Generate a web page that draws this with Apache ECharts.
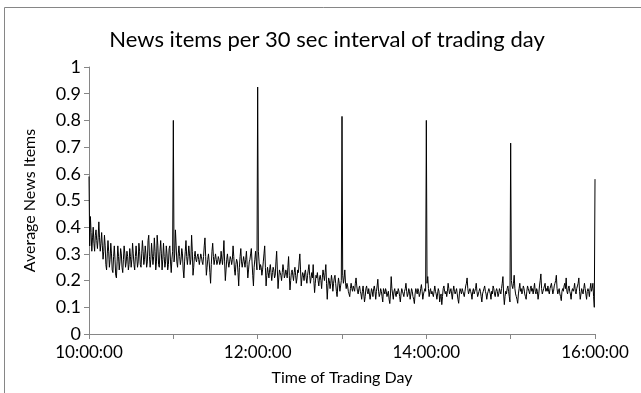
<!DOCTYPE html>
<html>
<head>
<meta charset="utf-8">
<script src="https://cdn.jsdelivr.net/npm/echarts@6/dist/echarts.min.js"></script>
<style>
  html, body { margin: 0; padding: 0; background: #fff; }
  #chart { width: 641px; height: 393px; }
</style>
</head>
<body>
<div id="chart"></div>
<script>
// Average news items per 30-second interval, one array per trading hour
// (each hour holds 120 readings, starting on the hour).
const hour10 = [
  0.59,0.33,0.44,0.38,0.31,0.36,0.40,0.34,0.31,0.37,
  0.39,0.35,0.32,0.36,0.42,0.36,0.31,0.34,0.38,0.33,
  0.28,0.31,0.37,0.33,0.26,0.24,0.30,0.35,0.31,0.25,
  0.28,0.34,0.30,0.24,0.23,0.29,0.33,0.28,0.22,0.21,
  0.27,0.33,0.29,0.24,0.27,0.32,0.30,0.25,0.23,0.28,
  0.33,0.30,0.25,0.27,0.31,0.29,0.24,0.26,0.32,0.29,
  0.25,0.28,0.34,0.30,0.26,0.24,0.29,0.33,0.29,0.25,
  0.27,0.34,0.31,0.26,0.25,0.30,0.35,0.31,0.26,0.28,
  0.33,0.30,0.25,0.27,0.35,0.37,0.29,0.25,0.28,0.34,
  0.30,0.26,0.29,0.36,0.31,0.24,0.27,0.37,0.33,0.26,
  0.25,0.31,0.35,0.30,0.24,0.28,0.34,0.29,0.25,0.27,
  0.33,0.30,0.24,0.26,0.32,0.33,0.27,0.23,0.28,0.31
];
const hour11 = [
  0.80,0.27,0.30,0.39,0.33,0.27,0.25,0.30,0.33,0.29,
  0.26,0.28,0.32,0.30,0.24,0.21,0.27,0.31,0.35,0.29,
  0.26,0.29,0.33,0.30,0.26,0.28,0.37,0.31,0.22,0.25,
  0.29,0.31,0.28,0.27,0.29,0.30,0.28,0.26,0.28,0.30,
  0.29,0.27,0.26,0.29,0.33,0.36,0.29,0.22,0.25,0.28,
  0.30,0.27,0.23,0.19,0.26,0.31,0.34,0.29,0.26,0.28,
  0.30,0.28,0.26,0.27,0.29,0.28,0.26,0.27,0.31,0.28,
  0.26,0.30,0.35,0.27,0.20,0.24,0.28,0.30,0.27,0.25,
  0.27,0.29,0.28,0.26,0.28,0.33,0.29,0.24,0.22,0.26,
  0.28,0.27,0.23,0.18,0.25,0.29,0.32,0.27,0.25,0.27,
  0.29,0.27,0.25,0.28,0.31,0.26,0.21,0.24,0.27,0.28,
  0.30,0.32,0.27,0.22,0.18,0.25,0.28,0.31,0.27,0.24
];
const hour12 = [
  0.925,0.31,0.27,0.24,0.26,0.25,0.22,0.24,0.27,0.30,
  0.33,0.25,0.18,0.22,0.25,0.23,0.21,0.24,0.26,0.23,
  0.20,0.23,0.25,0.24,0.21,0.22,0.27,0.31,0.24,0.17,
  0.21,0.24,0.23,0.22,0.20,0.23,0.26,0.24,0.21,0.22,
  0.24,0.23,0.21,0.25,0.29,0.22,0.165,0.20,0.23,0.24,
  0.22,0.20,0.23,0.25,0.22,0.19,0.21,0.24,0.23,0.27,
  0.30,0.24,0.18,0.21,0.23,0.22,0.20,0.23,0.24,0.21,
  0.19,0.22,0.24,0.26,0.22,0.19,0.21,0.23,0.21,0.26,
  0.20,0.155,0.19,0.22,0.21,0.23,0.20,0.18,0.21,0.22,
  0.20,0.17,0.21,0.24,0.22,0.20,0.23,0.26,0.19,0.13,
  0.18,0.21,0.20,0.17,0.19,0.22,0.20,0.16,0.19,0.21,
  0.22,0.19,0.16,0.14,0.18,0.21,0.19,0.16,0.18,0.20
];
const hour13 = [
  0.815,0.22,0.19,0.21,0.24,0.19,0.17,0.19,0.18,0.16,
  0.15,0.14,0.17,0.19,0.17,0.16,0.18,0.17,0.16,0.19,
  0.21,0.18,0.16,0.15,0.17,0.18,0.16,0.15,0.13,0.16,
  0.18,0.15,0.12,0.14,0.17,0.18,0.16,0.15,0.17,0.15,
  0.13,0.15,0.17,0.16,0.14,0.17,0.18,0.16,0.13,0.16,
  0.18,0.205,0.16,0.14,0.15,0.17,0.16,0.14,0.12,0.17,
  0.16,0.15,0.17,0.16,0.14,0.15,0.16,0.13,0.114,0.15,
  0.215,0.17,0.15,0.13,0.16,0.17,0.15,0.14,0.16,0.15,
  0.17,0.16,0.14,0.12,0.15,0.17,0.16,0.15,0.14,0.16,
  0.17,0.19,0.16,0.14,0.15,0.17,0.16,0.13,0.15,0.17,
  0.16,0.14,0.13,0.114,0.15,0.17,0.16,0.15,0.17,0.16,
  0.14,0.15,0.17,0.185,0.16,0.13,0.15,0.16,0.17,0.16
];
const hour14 = [
  0.80,0.19,0.215,0.17,0.14,0.16,0.17,0.15,0.16,0.15,
  0.14,0.16,0.18,0.16,0.15,0.13,0.15,0.17,0.16,0.12,
  0.14,0.15,0.11,0.14,0.17,0.18,0.16,0.15,0.16,0.14,
  0.16,0.19,0.17,0.15,0.16,0.17,0.15,0.13,0.16,0.18,
  0.16,0.15,0.16,0.17,0.15,0.13,0.115,0.15,0.17,0.16,
  0.15,0.17,0.16,0.15,0.14,0.16,0.18,0.19,0.21,0.17,
  0.15,0.16,0.17,0.16,0.15,0.13,0.16,0.17,0.15,0.16,
  0.17,0.19,0.16,0.14,0.15,0.16,0.17,0.16,0.14,0.12,
  0.15,0.16,0.17,0.18,0.16,0.15,0.13,0.15,0.16,0.17,
  0.16,0.15,0.13,0.16,0.15,0.18,0.17,0.15,0.14,0.16,
  0.17,0.16,0.14,0.15,0.17,0.16,0.15,0.17,0.19,0.215,
  0.15,0.11,0.14,0.16,0.15,0.17,0.18,0.16,0.14,0.12
];
const hour15 = [
  0.715,0.20,0.18,0.17,0.19,0.22,0.17,0.15,0.14,0.13,
  0.115,0.15,0.17,0.19,0.16,0.17,0.15,0.16,0.18,0.17,
  0.15,0.14,0.13,0.16,0.18,0.17,0.16,0.15,0.17,0.18,
  0.16,0.17,0.15,0.17,0.19,0.16,0.15,0.17,0.16,0.13,
  0.15,0.18,0.20,0.225,0.17,0.15,0.16,0.17,0.18,0.19,
  0.16,0.17,0.16,0.18,0.16,0.15,0.17,0.18,0.19,0.17,
  0.15,0.16,0.18,0.19,0.20,0.22,0.17,0.15,0.16,0.17,
  0.15,0.14,0.125,0.16,0.17,0.16,0.18,0.19,0.17,0.21,
  0.16,0.15,0.17,0.18,0.16,0.15,0.13,0.16,0.17,0.16,
  0.17,0.19,0.16,0.15,0.17,0.18,0.19,0.21,0.16,0.13,
  0.15,0.17,0.16,0.15,0.17,0.19,0.17,0.15,0.13,0.16,
  0.17,0.16,0.14,0.17,0.19,0.16,0.17,0.19,0.14,0.10
];
// Reading at the closing bell, 16:00:00
const closeValue = [0.58];

const tickLabels = ['10:00:00', '12:00:00', '14:00:00', '16:00:00'];

const values = [].concat(hour10, hour11, hour12, hour13, hour14, hour15, closeValue);

// 30-second timestamps from 10:00:00 onwards
const pad = n => String(n).padStart(2, '0');
const times = values.map((_, i) => {
  const s = 10 * 3600 + i * 30;
  return pad(Math.floor(s / 3600)) + ':' + pad(Math.floor(s / 60) % 60) + ':' + pad(s % 60);
});

const FONT = 'Lato';
const AXIS_GREY = '#868686';

const chart = echarts.init(document.getElementById('chart'), null, { renderer: 'canvas' });
chart.setOption({
  animation: false,
  backgroundColor: '#ffffff',
  title: {
    text: 'News items per 30 sec interval of trading day',
    left: 322,
    textAlign: 'center',
    top: 24,
    textStyle: { fontFamily: FONT, fontSize: 22, fontWeight: 'normal', color: '#000' }
  },
  graphic: [{
    type: 'rect',
    shape: { x: 4.5, y: 7.5, width: 700, height: 500 },
    style: { fill: 'none', stroke: AXIS_GREY, lineWidth: 1 },
    silent: true
  }],
  grid: { left: 89, right: 46, top: 67, bottom: 59, containLabel: false },
  xAxis: {
    type: 'category',
    data: times,
    boundaryGap: false,
    name: 'Time of Trading Day',
    nameLocation: 'middle',
    nameGap: 36,
    nameTextStyle: { fontFamily: FONT, fontSize: 16, color: '#000' },
    axisLine: { lineStyle: { color: AXIS_GREY, width: 1 } },
    axisTick: { show: true, interval: 119, length: 5, lineStyle: { color: AXIS_GREY } },
    axisLabel: {
      interval: 239,
      margin: 10,
      fontFamily: FONT, fontSize: 17, color: '#000',
      formatter: v => tickLabels.includes(v) ? v : ''
    },
    splitLine: { show: false }
  },
  yAxis: {
    type: 'value',
    min: 0,
    max: 1,
    interval: 0.1,
    name: 'Average News Items',
    nameLocation: 'middle',
    nameGap: 51,
    nameTextStyle: { fontFamily: FONT, fontSize: 16, color: '#000' },
    axisLine: { show: true, lineStyle: { color: AXIS_GREY, width: 1 } },
    axisTick: { show: true, length: 5, lineStyle: { color: AXIS_GREY } },
    axisLabel: {
      margin: 8,
      fontFamily: FONT, fontSize: 18, color: '#000',
      formatter: v => String(Math.round(v * 10) / 10)
    },
    splitLine: { show: false }
  },
  series: [{
    type: 'line',
    data: values,
    showSymbol: false,
    sampling: null,
    lineStyle: { color: '#000000', width: 1 },
    z: 3
  }]
});
</script>
</body>
</html>
